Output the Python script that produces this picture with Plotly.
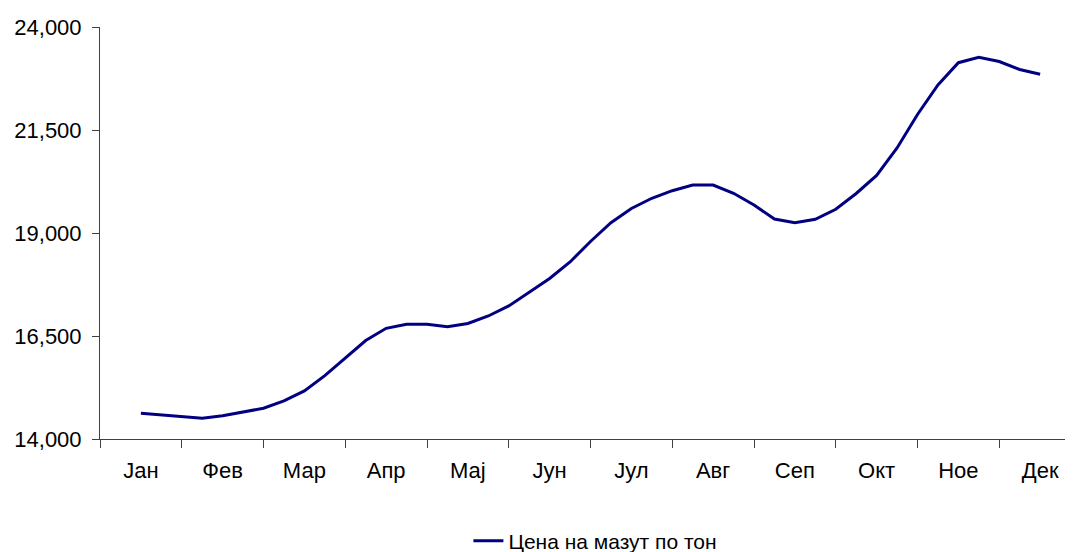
import plotly.graph_objects as go

months = ["Јан", "Фев", "Мар", "Апр", "Мај", "Јун", "Јул", "Авг", "Сеп", "Окт", "Ное", "Дек"]
series_name = "Цена на мазут по тон"
# weekly-ish readings (4 per month), from mid-January to mid-December
price = [14624, 14583, 14541, 14503, 14564, 14656, 14746, 14923, 15166, 15539,
         15976, 16391, 16687, 16784, 16784, 16726, 16804, 16986, 17229, 17568,
         17896, 18297, 18794, 19250, 19595, 19843, 20027, 20165, 20165, 19964,
         19680, 19340, 19250, 19333, 19576, 19959, 20396, 21063, 21876, 22592,
         23134, 23265, 23163, 22969, 22852]
y_ticks = [14000, 16500, 19000, 21500, 24000]
points_per_month = 4

x_pos = [i / points_per_month for i in range(len(price))]

fig = go.Figure()
fig.add_trace(go.Scatter(
    x=x_pos, y=price, mode="lines", name=series_name,
    line=dict(color="#000080", width=3),
))

axis_color = "#404040"
fig.update_layout(
    width=1073, height=552,
    margin=dict(l=92, r=0, t=19, b=121, autoexpand=False),
    plot_bgcolor="white", paper_bgcolor="white",
    font=dict(family="Liberation Sans, Arial, sans-serif", size=22, color="black"),
    showlegend=True,
    legend=dict(orientation="h", x=0.505, xanchor="center", y=-0.2476, yanchor="middle",
                font=dict(size=21)),
    xaxis=dict(
        range=[-0.5, 11.5], tickmode="array",
        tickvals=list(range(len(months))), ticktext=months,
        ticks="", showgrid=False, zeroline=False, automargin=False,
        showline=True, linecolor=axis_color, linewidth=1,
        ticklabelstandoff=12,
        minor=dict(tick0=-0.5, dtick=1, ticks="outside", ticklen=8,
                   tickcolor=axis_color, showgrid=False),
    ),
    yaxis=dict(
        range=[14000, 24000], tickmode="array", tickvals=y_ticks,
        tickformat=",", ticks="outside", ticklen=7, tickcolor=axis_color,
        showgrid=False, zeroline=False, automargin=False,
        showline=True, linecolor=axis_color, linewidth=1,
        ticklabelstandoff=6,
        tickfont=dict(size=22),
    ),
)

fig.write_html("out.html")
